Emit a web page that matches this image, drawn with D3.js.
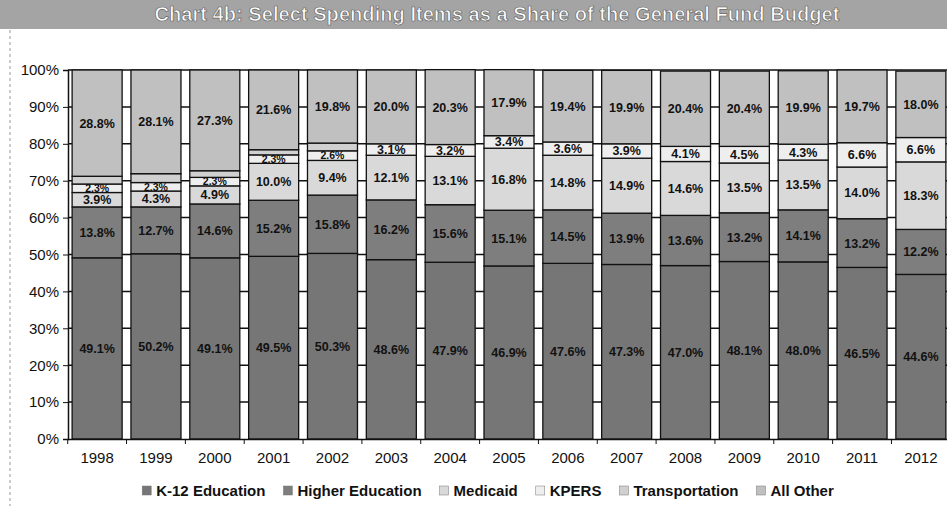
<!DOCTYPE html>
<html lang="en">
<head>
<meta charset="UTF-8">
<title>Chart 4b</title>
<script src="https://d3js.org/d3.v7.min.js"></script>
<style>
	body { margin: 0; background: #fff; }
	text { font-family: "Liberation Sans", Arial, sans-serif; }
	.tick-label { font-size: 15px; fill: #111; }
	.seg-label { font-size: 12.5px; font-weight: bold; fill: #111; }
	.legend-label { font-size: 15px; font-weight: bold; fill: #111; }
</style>
</head>
<body>
<svg id="chart" width="947" height="506"></svg>
<script>
const width = 947, height = 506;

// Data (percent of General Fund budget)
const years = ["1998","1999","2000","2001","2002","2003","2004","2005","2006","2007","2008","2009","2010","2011","2012"];
const k12 = [49.1, 50.2, 49.1, 49.5, 50.3, 48.6, 47.9, 46.9, 47.6, 47.3, 47.0, 48.1, 48.0, 46.5, 44.6];
const higherEd = [13.8, 12.7, 14.6, 15.2, 15.8, 16.2, 15.6, 15.1, 14.5, 13.9, 13.6, 13.2, 14.1, 13.2, 12.2];
const medicaid = [3.9, 4.3, 4.9, 10.0, 9.4, 12.1, 13.1, 16.8, 14.8, 14.9, 14.6, 13.5, 13.5, 14.0, 18.3];
const kpers = [2.3, 2.3, 2.3, 2.3, 2.6, 3.1, 3.2, 3.4, 3.6, 3.9, 4.1, 4.5, 4.3, 6.6, 6.6];
const transportation = [2.1, 2.4, 1.8, 1.4, 2.1, 0, 0, 0, 0, 0, 0, 0, 0, 0, 0];
const allOther = [28.8, 28.1, 27.3, 21.6, 19.8, 20.0, 20.3, 17.9, 19.4, 19.9, 20.4, 20.4, 19.9, 19.7, 18.0];

const seriesNames = ["K-12 Education", "Higher Education", "Medicaid", "KPERS", "Transportation", "All Other"];
const seriesValues = [k12, higherEd, medicaid, kpers, transportation, allOther];
const seriesColors = ["#767676", "#7e7e7e", "#d9d9d9", "#eeeeee", "#d0d0d0", "#c0c0c0"];
const showLabels = [true, true, true, true, false, true];
const yTicks = [0, 10, 20, 30, 40, 50, 60, 70, 80, 90, 100];

const svg = d3.select("#chart");

// title banner
svg.append("rect")
	.attr("x", 0).attr("y", 0)
	.attr("width", width).attr("height", 29)
	.attr("fill", "#a4a4a4");
svg.append("text")
	.attr("x", 497).attr("y", 21)
	.attr("text-anchor", "middle")
	.style("font-size", "19.5px")
	.style("font-weight", "bold")
	.attr("fill", "#fff")
	.attr("stroke", "#666")
	.attr("stroke-width", 0.7)
	.attr("textLength", 685)
	.attr("lengthAdjust", "spacingAndGlyphs")
	.text("Chart 4b: Select Spending Items as a Share of the General Fund Budget");

// scanner edge on the left
svg.append("line")
	.attr("x1", 10).attr("x2", 10)
	.attr("y1", 30).attr("y2", height)
	.attr("stroke", "#999")
	.attr("stroke-dasharray", "3,3");

const x = d3.scaleBand()
	.domain(years)
	.range([68, 950])
	.paddingInner(0.15)
	.paddingOuter(0.07);

const y = d3.scaleLinear()
	.domain([0, 100])
	.range([439, 70]);

// gridlines
svg.append("g")
	.selectAll("line")
	.data(yTicks.slice(1))
	.enter()
	.append("line")
	.attr("x1", 68).attr("x2", 950)
	.attr("y1", d => y(d)).attr("y2", d => y(d))
	.attr("stroke", "#111")
	.attr("stroke-width", 1.5);

// y axis
const yAxis = svg.append("g")
	.attr("transform", "translate(68,0)")
	.call(d3.axisLeft(y).tickValues(yTicks).tickFormat(d => d + "%").tickSize(5));
yAxis.select(".domain").attr("stroke", "#111").attr("stroke-width", 1.5);
yAxis.selectAll(".tick line").attr("stroke", "#111");
yAxis.selectAll(".tick text")
	.attr("class", "tick-label")
	.attr("x", -9)
	.style("font-size", "15px");

// stacked bars
const rows = years.map((yr, i) => {
	const row = { year: yr };
	seriesNames.forEach((s, j) => row[s] = seriesValues[j][i]);
	return row;
});
const stacked = d3.stack().keys(seriesNames)(rows);

const layers = svg.append("g")
	.selectAll("g")
	.data(stacked)
	.enter()
	.append("g")
	.attr("fill", (d, i) => seriesColors[i]);

layers.selectAll("rect")
	.data(d => d)
	.enter()
	.append("rect")
	.attr("x", d => x(d.data.year))
	.attr("y", d => y(d[1]))
	.attr("width", x.bandwidth())
	.attr("height", d => y(d[0]) - y(d[1]))
	.attr("stroke", "#111")
	.attr("stroke-width", 1.3);

// segment labels (thin segments get a smaller font so they don't collide)
stacked.forEach((layer, i) => {
	if (!showLabels[i]) return;
	svg.append("g")
		.selectAll("text")
		.data(layer)
		.enter()
		.append("text")
		.attr("class", "seg-label")
		.attr("x", d => x(d.data.year) + x.bandwidth() / 2)
		.attr("y", d => (y(d[0]) + y(d[1])) / 2)
		.attr("dy", "0.36em")
		.attr("text-anchor", "middle")
		.style("font-size", d => (d[1] - d[0]) < 3 ? "10.5px" : null)
		.text(d => (d[1] - d[0]).toFixed(1) + "%");
});

// x axis
const xAxis = svg.append("g")
	.attr("transform", "translate(0,439)")
	.call(d3.axisBottom(x).tickSize(0).tickPadding(13));
xAxis.select(".domain").attr("stroke", "#111").attr("stroke-width", 1.5);
xAxis.selectAll(".tick text")
	.attr("class", "tick-label")
	.style("font-size", "15px");
svg.append("g")
	.selectAll("line")
	.data(years)
	.enter()
	.append("line")
	.attr("x1", d => x(d) - x.step() * x.paddingInner() / 2)
	.attr("x2", d => x(d) - x.step() * x.paddingInner() / 2)
	.attr("y1", 439).attr("y2", 444)
	.attr("stroke", "#111");

// legend
const legend = svg.append("g");
let lx = 0;
seriesNames.forEach((name, i) => {
	const g = legend.append("g").attr("transform", `translate(${lx},0)`);
	g.append("rect")
		.attr("x", 0).attr("y", -10)
		.attr("width", 9).attr("height", 9)
		.attr("fill", seriesColors[i])
		.attr("stroke", "#777")
		.attr("stroke-width", 0.5);
	const t = g.append("text")
		.attr("class", "legend-label")
		.attr("x", 14).attr("y", 0)
		.text(name);
	lx += 14 + t.node().getComputedTextLength() + 18;
});
const total = lx - 18;
legend.attr("transform", `translate(${488 - total / 2},496)`);
</script>
</body>
</html>
